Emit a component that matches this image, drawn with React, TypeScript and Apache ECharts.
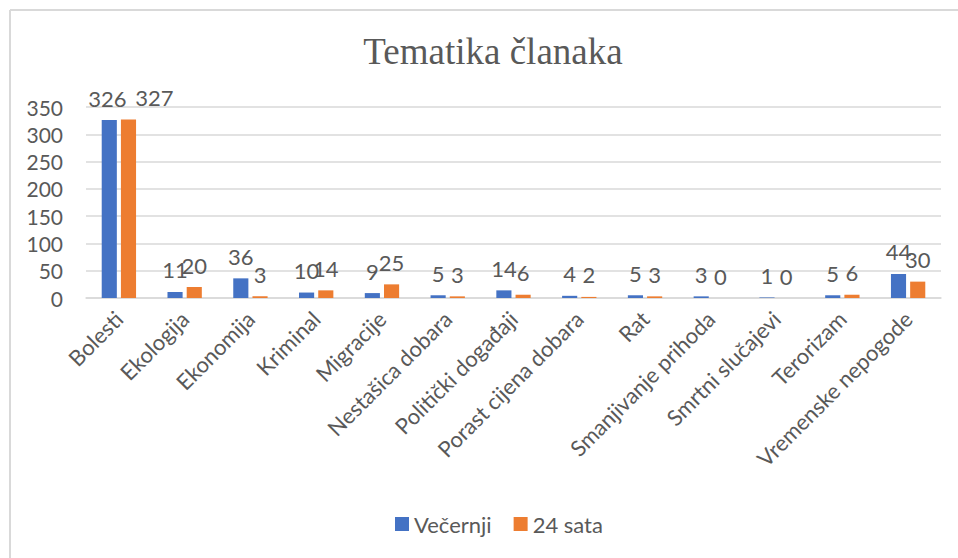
import React, { useEffect, useRef } from "react";
import * as echarts from "echarts";

const categories = [
  "Bolesti",
  "Ekologija",
  "Ekonomija",
  "Kriminal",
  "Migracije",
  "Nestašica dobara",
  "Politički događaji",
  "Porast cijena dobara",
  "Rat",
  "Smanjivanje prihoda",
  "Smrtni slučajevi",
  "Terorizam",
  "Vremenske nepogode",
];
const vecernji = [326, 11, 36, 10, 9, 5, 14, 4, 5, 3, 1, 5, 44];
const sata24 = [327, 20, 3, 14, 25, 3, 6, 2, 3, 0, 0, 6, 30];
const seriesNames = ["Večernji", "24 sata"];
const titleText = "Tematika članaka";

const FONT = "Lato, 'Open Sans', sans-serif";
const TXT = "#595959";

export default function App() {
  const ref = useRef<HTMLDivElement>(null);
  useEffect(() => {
    if (!ref.current) return;
    const chart = echarts.init(ref.current, null, { renderer: "svg" });
    const label = {
      show: true,
      position: "top",
      distance: 11,
      color: TXT,
      fontSize: 22,
      fontFamily: FONT,
    };
    // Excel nudged the first orange label sideways so it clears the blue one
    const sataData = sata24.map((v, i) =>
      i === 0 ? { value: v, label: { offset: [26, 0] } } : v
    );
    const vecData = vecernji.map((v, i) =>
      i === 0 ? { value: v, label: { offset: [-2, 0] } } : v
    );
    chart.setOption({
      animation: false,
      backgroundColor: "#fff",
      title: {
        text: titleText,
        left: 488,
        textAlign: "center",
        top: 28,
        textStyle: {
          fontFamily: "'Liberation Serif', 'Times New Roman', serif",
          fontSize: 37,
          fontWeight: "normal",
          color: TXT,
        },
      },
      legend: {
        bottom: 18,
        left: 390,
        itemWidth: 14,
        itemHeight: 14,
        itemGap: 22,
        icon: "rect",
        textStyle: { fontFamily: FONT, fontSize: 22, color: TXT },
        data: seriesNames,
      },
      grid: { left: 86, right: 17, top: 107, bottom: 260, outerBoundsMode: "none" },
      xAxis: {
        type: "category",
        data: categories,
        axisLine: { lineStyle: { color: "#d9d9d9", width: 1.5 } },
        axisTick: { show: false },
        axisLabel: {
          rotate: 45,
          interval: 0,
          margin: 17,
          color: TXT,
          fontSize: 22,
          fontFamily: FONT,
        },
      },
      yAxis: {
        type: "value",
        min: 0,
        max: 350,
        interval: 50,
        axisLine: { show: false },
        axisTick: { show: false },
        splitLine: { lineStyle: { color: "#d9d9d9", width: 1.5 } },
        axisLabel: {
          margin: 23,
          color: TXT,
          fontSize: 21,
          fontFamily: FONT,
        },
      },
      graphic: [
        {
          type: "line",
          shape: { x1: 10, y1: 10, x2: 958, y2: 10 },
          style: { stroke: "#d9d9d9", lineWidth: 2 },
        },
        {
          type: "line",
          shape: { x1: 10, y1: 10, x2: 10, y2: 558 },
          style: { stroke: "#d9d9d9", lineWidth: 2 },
        },
      ],
      series: [
        {
          name: seriesNames[0],
          type: "bar",
          data: vecData,
          barWidth: "23%",
          barGap: "27%",
          itemStyle: { color: "#4472c4" },
          label,
        },
        {
          name: seriesNames[1],
          type: "bar",
          data: sataData,
          barWidth: "23%",
          itemStyle: { color: "#ed7d31" },
          label,
        },
      ],
    });
    return () => chart.dispose();
  }, []);
  return (
    <div
      ref={ref}
      style={{ position: "absolute", left: 0, top: 0, width: 958, height: 558 }}
    />
  );
}
